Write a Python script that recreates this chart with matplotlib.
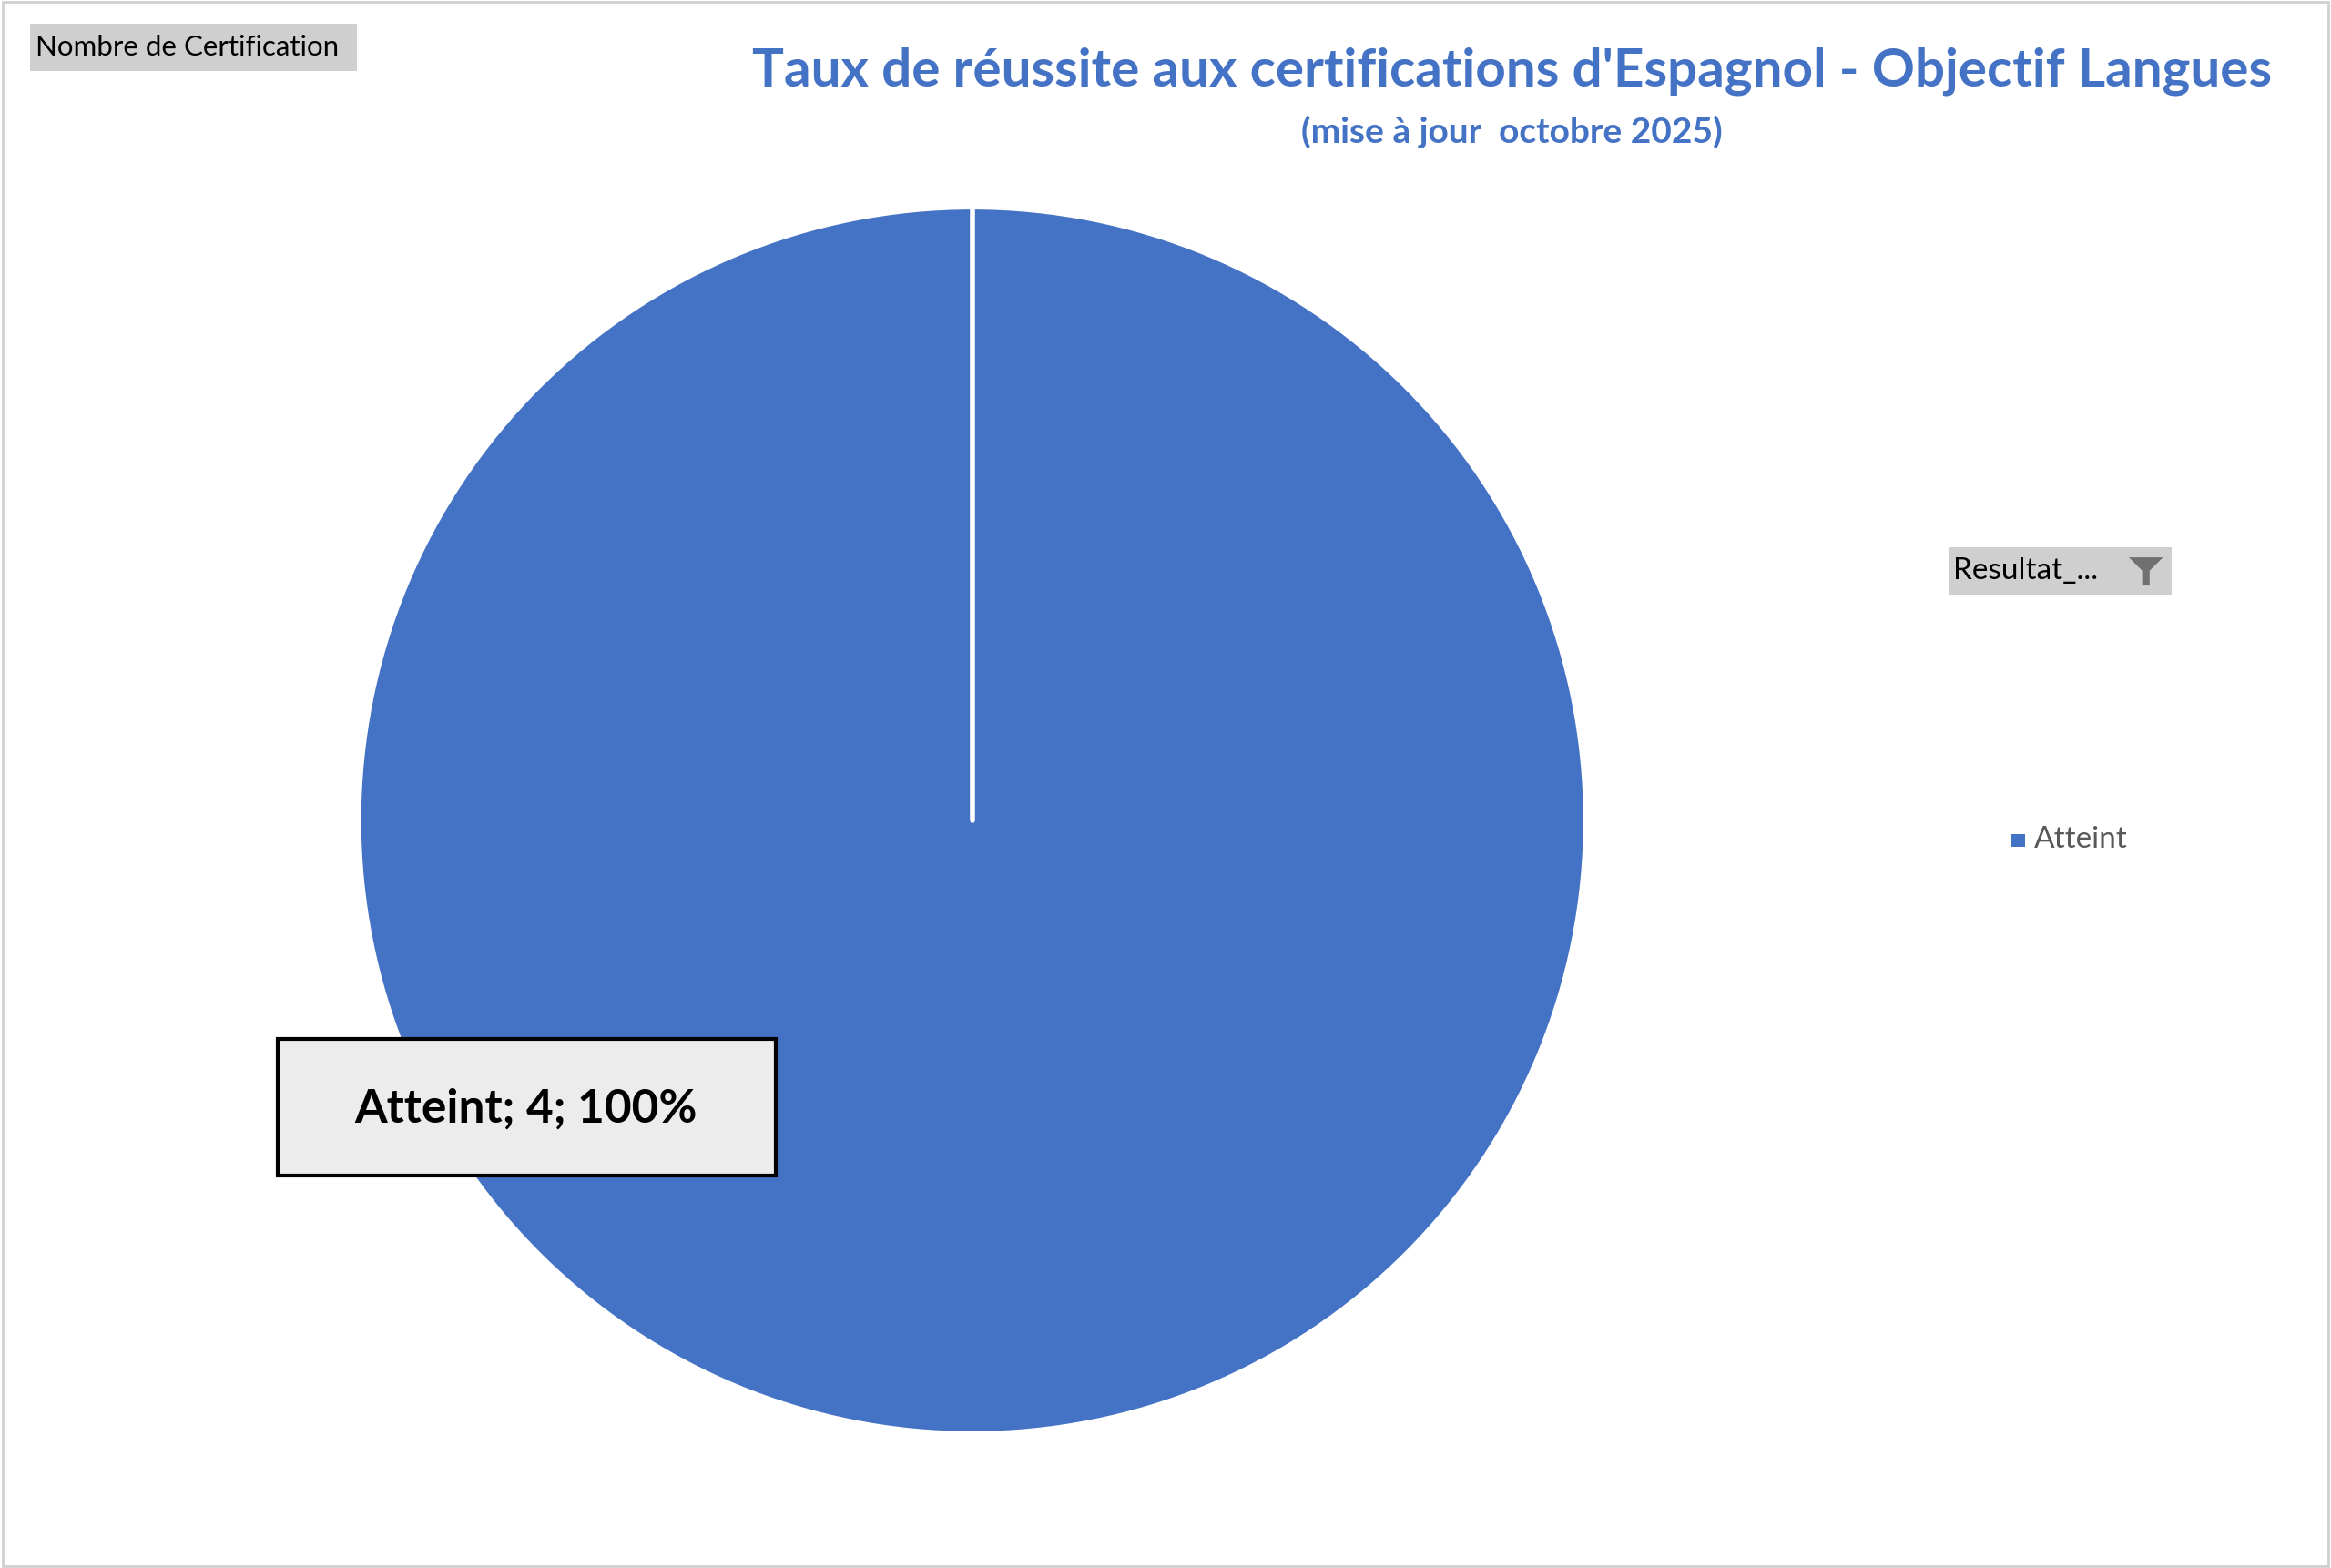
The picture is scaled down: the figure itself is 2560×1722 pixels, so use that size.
import matplotlib.pyplot as plt
from matplotlib.patches import Rectangle, Polygon

plt.rcParams['font.family'] = ['Lato', 'DejaVu Sans']

categories = ["Atteint"]
counts = [4]
title = "Taux de réussite aux certifications d'Espagnol - Objectif Langues"
subtitle = "(mise à jour  octobre 2025)"
blue = "#4472C4"

W, H = 1568, 1055  # layout units (reference pixels)
fig = plt.figure(figsize=(25.6, 17.22), dpi=100)

def fx(x):
    return x / W

def fy(y):
    return 1 - y / H

# outer border
fig.patches.append(Rectangle((0.001, 0.001), 0.998, 0.998, transform=fig.transFigure,
                             fill=False, edgecolor="#d0d0d0", linewidth=2))

# pie
ax = fig.add_axes([fx(243), fy(963), fx(822), 822 / H])
total = sum(counts)
ax.pie(counts, colors=[blue], startangle=90, counterclock=False,
       wedgeprops=dict(linewidth=0))
ax.plot([0, 0], [0, 1], color="white", linewidth=4, solid_capstyle="round")
ax.set_xlim(-1, 1)
ax.set_ylim(-1, 1)
ax.set_aspect("auto")
ax.axis("off")

# data label
fig.patches.append(Rectangle((fx(187), fy(791)), fx(335), 92 / H, transform=fig.transFigure,
                             facecolor="#ececec", edgecolor="black", linewidth=3, zorder=5))
pct = counts[0] / total * 100
fig.text(fx(354), fy(746), f"{categories[0]}; {counts[0]}; {pct:.0f}%", ha="center", va="center",
         fontsize=37, fontweight="bold", color="black", zorder=6)

# titles
fig.text(fx(1017), fy(48), title, ha="center", va="center", fontsize=42,
         fontweight="bold", color=blue)
fig.text(fx(1017), fy(89), subtitle, ha="center", va="center", fontsize=28,
         fontweight="bold", color=blue)

# field buttons
fig.patches.append(Rectangle((fx(20), fy(48)), fx(220), 32 / H, transform=fig.transFigure,
                             facecolor="#cfcfcf", edgecolor="none"))
fig.text(fx(24), fy(32), "Nombre de Certification", ha="left", va="center", fontsize=22.5,
         color="black")
fig.patches.append(Rectangle((fx(1311), fy(400)), fx(150), 32 / H, transform=fig.transFigure,
                             facecolor="#cfcfcf", edgecolor="none"))
fig.text(fx(1314), fy(384), "Resultat_...", ha="left", va="center", fontsize=24, color="black")
fig.patches.append(Polygon([(fx(1432), fy(375)), (fx(1455), fy(375)), (fx(1446), fy(384)),
                            (fx(1446), fy(394)), (fx(1441), fy(394)), (fx(1441), fy(384))],
                           closed=True, transform=fig.transFigure, facecolor="#707070"))

# legend
fig.patches.append(Rectangle((fx(1353), fy(570)), fx(9), 9 / H, transform=fig.transFigure,
                             facecolor=blue, edgecolor="none"))
fig.text(fx(1368), fy(565), categories[0], ha="left", va="center", fontsize=24, color="#595959")

fig.savefig("out.png", dpi=100)
